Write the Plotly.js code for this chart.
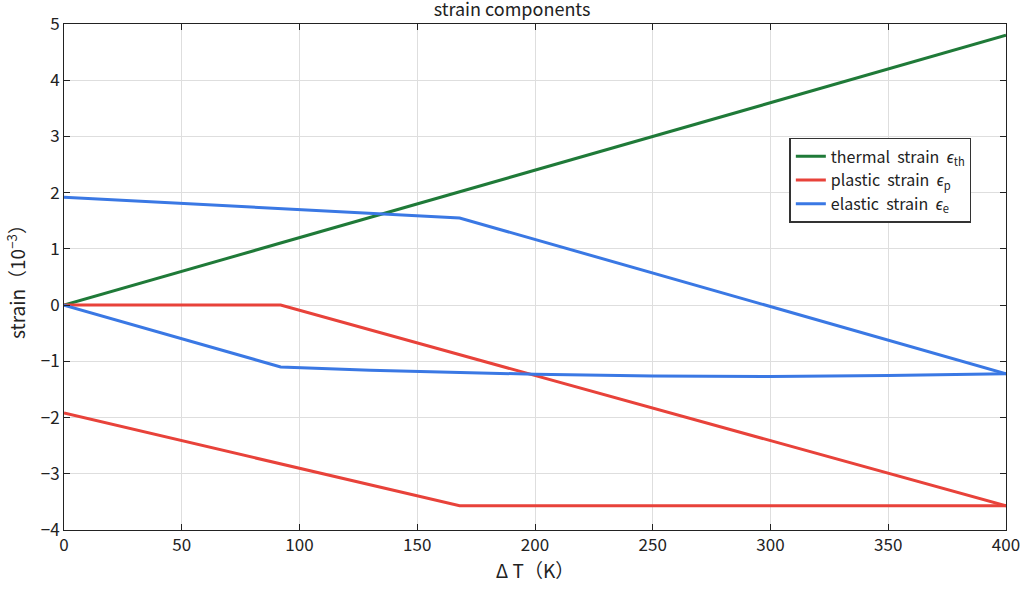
<!DOCTYPE html>
<html>
<head>
<script src="https://cdn.plot.ly/plotly-3.0.1.min.js"></script>
<style>body{margin:0}#plot{width:1024px;height:595px}</style>
</head>
<body>
<div id="plot"></div>
<script>
// strain values in 10^-3
let thermalX = [0, 400]
let thermalY = [0, 4.8]

let plasticAX = [0, 92, 400]
let plasticAY = [0, 0, -3.57]
let plasticBX = [0, 168, 400]
let plasticBY = [-1.92, -3.57, -3.57]

let elasticAX = [0, 168, 400]
let elasticAY = [1.92, 1.55, -1.22]
let elasticBX = [0, 92, 130, 168, 200, 250, 300, 350, 400]
let elasticBY = [0, -1.1, -1.16, -1.2, -1.23, -1.26, -1.27, -1.25, -1.22]

let green = "#1f7a38"
let red = "#e8423a"
let blue = "#3a78e4"

function line(x, y, color, name, show) {
  return {
    x: x, y: y, type: "scatter", mode: "lines", name: name,
    legendgroup: name, showlegend: show,
    line: {color: color, width: 3}
  }
}

let data = [
  line(thermalX, thermalY, green, "thermal  strain  <i>ϵ</i><sub>th</sub>", true),
  line(plasticAX, plasticAY, red, "plastic  strain  <i>ϵ</i><sub>p</sub>", true),
  line(plasticBX, plasticBY, red, "plastic  strain  <i>ϵ</i><sub>p</sub>", false),
  line(elasticAX, elasticAY, blue, "elastic  strain  <i>ϵ</i><sub>e</sub>", true),
  line(elasticBX, elasticBY, blue, "elastic  strain  <i>ϵ</i><sub>e</sub>", false)
]

let axisStyle = {
  showgrid: true, gridcolor: "#dedede", zeroline: false,
  showline: true, linecolor: "#222", linewidth: 1, mirror: "ticks",
  ticks: "inside", ticklen: 6, tickcolor: "#222",
  tickfont: {size: 17, color: "#222"}
}

let layout = {
  width: 1024, height: 595,
  margin: {l: 64, r: 18, t: 24, b: 65},
  font: {family: "Noto Sans CJK JP, Noto Sans, sans-serif", color: "#222"},
  title: {text: "strain components", font: {size: 18}, y: 0.995, yanchor: "top"},
  xaxis: Object.assign({}, axisStyle, {range: [0, 400], dtick: 50,
    title: {text: "Δ T（K）", font: {size: 19}, standoff: 4}}),
  yaxis: Object.assign({}, axisStyle, {range: [-4, 5], dtick: 1,
    title: {text: "strain（10<sup>−3</sup>）", font: {size: 19}, standoff: 10}}),
  legend: {x: 0.77, y: 0.775, xanchor: "left", yanchor: "top",
    bgcolor: "white", bordercolor: "#333", borderwidth: 1.5,
    font: {size: 16}, tracegroupgap: 0},
  plot_bgcolor: "white", paper_bgcolor: "white"
}

Plotly.newPlot("plot", data, layout, {displayModeBar: false})
</script>
</body>
</html>
